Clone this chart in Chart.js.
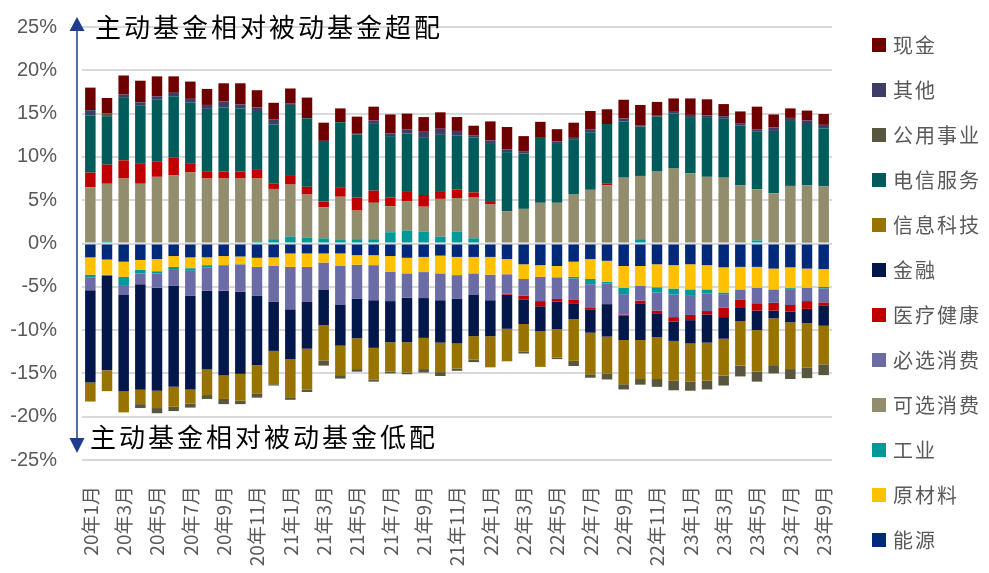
<!DOCTYPE html>
<html>
<head>
<meta charset="utf-8">
<script src="https://cdn.jsdelivr.net/npm/chart.js@4.4.1/dist/chart.umd.min.js"></script>
<style>
  body { margin: 0; background: #fff; }
  canvas { display: block; }
</style>
</head>
<body>
<canvas id="grafico" width="989" height="573"></canvas>
<script>
// months 20年1月 .. 23年9月
const meses = [
  '20年1月','20年2月','20年3月','20年4月','20年5月','20年6月','20年7月','20年8月','20年9月','20年10月','20年11月','20年12月',
  '21年1月','21年2月','21年3月','21年4月','21年5月','21年6月','21年7月','21年8月','21年9月','21年10月','21年11月','21年12月',
  '22年1月','22年2月','22年3月','22年4月','22年5月','22年6月','22年7月','22年8月','22年9月','22年10月','22年11月','22年12月',
  '23年1月','23年2月','23年3月','23年4月','23年5月','23年6月','23年7月','23年8月','23年9月'
];

// 超配/低配 (%), one value per month
const energia = [-1.6,-1.85,-2.1,-1.9,-1.8,-1.45,-1.6,-1.6,-1.45,-1.5,-1.65,-1.6,-1.15,-1.15,-1.15,-1.15,-1.35,-1.35,-1.45,-1.65,-1.55,-1.4,-1.55,-1.55,-1.55,-1.8,-2.4,-2.5,-2.6,-2.1,-1.8,-2.0,-2.6,-2.6,-2.4,-2.5,-2.4,-2.5,-2.75,-2.7,-2.7,-2.9,-2.75,-2.9,-2.95];
const materiais = [-2.0,-1.75,-1.75,-1.15,-1.4,-1.25,-1.25,-0.9,-1.05,-0.9,-1.05,-0.95,-1.55,-1.55,-1.05,-1.45,-1.1,-1.15,-1.8,-1.8,-1.75,-2.05,-2.1,-1.9,-2.05,-1.75,-1.7,-1.35,-1.3,-1.75,-2.3,-2.4,-2.5,-2.25,-2.65,-2.7,-2.9,-2.8,-2.9,-2.6,-2.4,-2.4,-2.4,-2.2,-2.05];
const industria = [-0.35,0.2,-0.95,-0.4,-0.25,-0.25,-0.3,-0.25,0,0,0.2,0.5,0.8,0.65,0.6,0.4,0.5,0.5,1.3,1.5,1.35,0.8,1.35,0.6,0,0,0,0,0,-0.2,-0.6,-0.2,-0.75,0.5,-0.6,-0.7,-0.75,-0.45,-0.2,0,0.35,0,-0.2,0.1,-0.2];
const opcional = [6.5,6.7,7.5,6.9,7.7,7.9,8.2,7.5,7.5,7.5,7.3,5.8,6.0,5.0,3.6,5.0,3.3,4.2,3.0,3.4,2.9,4.35,3.9,4.7,4.5,3.7,4.0,4.7,4.7,5.65,6.2,6.7,7.6,7.3,8.3,8.65,8.1,7.7,7.6,6.7,5.9,5.8,6.65,6.6,6.6];
const essencial = [-1.45,-0.15,-1.15,-1.25,-1.65,-1.9,-2.9,-2.7,-2.95,-3.15,-3.35,-4.15,-4.9,-4.05,-3.1,-4.5,-3.9,-4.05,-3.4,-2.8,-3.0,-3.1,-2.7,-2.5,-2.95,-2.25,-1.9,-2.8,-2.5,-2.4,-2.75,-2.4,-2.35,-1.75,-2.1,-2.6,-2.2,-2.05,-1.55,-1.15,-1.8,-1.55,-1.75,-1.55,-1.6];
const saude = [1.7,2.2,2.1,2.3,1.8,2.0,1.0,0.85,0.8,0.8,1.0,0.65,1.0,0.9,0.65,1.1,1.5,1.4,1.0,1.15,1.35,0.9,1.0,0.6,0.3,-0.1,-0.45,-0.6,-0.3,-0.45,-0.15,0.2,-0.15,-0.3,-0.3,-0.5,-0.6,-0.4,-1.1,-0.9,-0.85,-0.9,-0.75,-0.9,-0.4];
const financas = [-10.65,-10.9,-11.15,-12.2,-11.9,-11.7,-10.8,-9.1,-9.8,-9.5,-8.0,-5.7,-5.75,-5.4,-4.15,-4.7,-4.6,-5.5,-4.75,-5.15,-4.6,-4.9,-5.2,-4.75,-4.15,-3.95,-2.85,-2.9,-3.2,-1.85,-2.7,-3.75,-2.8,-4.25,-2.75,-2.25,-2.7,-3.25,-2.5,-1.6,-2.25,-0.9,-1.25,-1.65,-2.3];
const tecnologia = [-2.2,-2.4,-2.4,-1.65,-2.0,-2.3,-1.65,-2.95,-2.7,-3.1,-3.25,-3.85,-4.4,-4.7,-4.05,-3.4,-3.55,-3.65,-3.4,-3.5,-3.6,-3.4,-2.9,-2.7,-3.6,-3.75,-3.2,-4.1,-3.25,-4.8,-4.8,-4.25,-5.1,-4.5,-4.85,-4.6,-4.4,-4.4,-4.25,-5.15,-4.8,-5.4,-5.4,-5.15,-4.45];
const telecom = [6.6,5.6,7.3,6.7,7.1,7.1,7.1,7.2,7.4,7.3,6.8,6.8,8.2,7.9,7.0,7.5,7.3,7.8,7.1,6.65,6.6,6.5,6.2,6.35,6.8,6.85,6.4,7.5,6.9,6.4,6.65,6.9,6.5,5.7,6.35,6.35,6.5,6.9,6.8,6.9,6.65,7.2,7.5,7.1,6.7];
const utilidades = [0,0.3,0,-0.45,-0.6,-0.5,-0.45,-0.45,-0.6,-0.4,-0.5,-0.15,-0.3,-0.3,-0.6,-0.4,-0.3,-0.25,-0.2,-0.2,-0.4,-0.45,-0.25,-0.3,0,0,-0.2,0,-0.2,-0.6,-0.4,-0.7,-0.6,-0.65,-0.9,-1.1,-1.05,-1.0,-1.15,-1.25,-1.15,-0.95,-1.15,-1.2,-1.25];
const outros = [0.6,0,0.3,0.4,0.4,0.4,0.4,0.45,0.7,0.45,0.4,0.6,0.2,0,0,0,0.15,0.3,0.3,0.45,0.7,0.7,0.55,0.25,0.3,0.3,0.2,0,0.2,0.15,0.35,0,0.35,0.1,0.1,0.3,0.25,0.2,0.3,0.3,0.3,0.4,0.35,0.4,0.4];
const caixa = [2.6,1.8,2.2,2.5,2.3,1.9,2.0,1.85,2.1,2.45,2.0,1.9,1.7,2.4,2.1,1.6,1.9,1.6,2.2,1.85,1.7,1.9,1.6,1.1,2.2,2.6,1.8,1.85,1.4,1.75,2.1,1.7,2.15,2.4,1.6,1.45,1.9,1.85,1.4,1.35,2.6,1.5,1.1,1.15,1.25];

const yTicks = [-25, -20, -15, -10, -5, 0, 5, 10, 15, 20, 25];
const textoTopo = '主动基金相对被动基金超配';
const textoBaixo = '主动基金相对被动基金低配';

// stacking order (bottom first); legend is drawn reversed
const series = [
  { label: '能源', data: energia, cor: '#00297A' },
  { label: '原材料', data: materiais, cor: '#FFC000' },
  { label: '工业', data: industria, cor: '#00999A' },
  { label: '可选消费', data: opcional, cor: '#918D6D' },
  { label: '必选消费', data: essencial, cor: '#6B6BA5' },
  { label: '医疗健康', data: saude, cor: '#C00000' },
  { label: '金融', data: financas, cor: '#03174A' },
  { label: '信息科技', data: tecnologia, cor: '#997300' },
  { label: '电信服务', data: telecom, cor: '#025B5B' },
  { label: '公用事业', data: utilidades, cor: '#595640' },
  { label: '其他', data: outros, cor: '#3D3D66' },
  { label: '现金', data: caixa, cor: '#6E0000' }
];

const extras = {
  id: 'extras',
  afterDraw(chart) {
    const ctx = chart.ctx;
    const area = chart.chartArea;
    const y = chart.scales.y;
    const ax = area.left - 5;
    const topo = y.getPixelForValue(25) - 10;
    const baixo = y.getPixelForValue(-25) - 7;
    ctx.save();
    // double arrow along the y axis
    ctx.strokeStyle = '#1F3D8F';
    ctx.fillStyle = '#1F3D8F';
    ctx.lineWidth = 1.5;
    ctx.beginPath();
    ctx.moveTo(ax, topo + 10);
    ctx.lineTo(ax, baixo - 10);
    ctx.stroke();
    ctx.beginPath();
    ctx.moveTo(ax, topo); ctx.lineTo(ax - 7.5, topo + 14); ctx.lineTo(ax + 7.5, topo + 14);
    ctx.closePath(); ctx.fill();
    ctx.beginPath();
    ctx.moveTo(ax, baixo); ctx.lineTo(ax - 7.5, baixo - 15); ctx.lineTo(ax + 7.5, baixo - 15);
    ctx.closePath(); ctx.fill();

    // annotations
    ctx.fillStyle = '#000';
    ctx.font = '26px "Noto Sans CJK SC"';
    ctx.letterSpacing = '3px';
    ctx.textAlign = 'left';
    ctx.textBaseline = 'middle';
    ctx.fillText(textoTopo, ax + 18, topo + 10);
    ctx.fillText(textoBaixo, ax + 13, baixo - 16);

    // legend on the right
    ctx.font = '20px "Noto Sans CJK SC"';
    ctx.letterSpacing = '2px';
    const ds = chart.data.datasets;
    for (let i = ds.length - 1, r = 0; i >= 0; i--, r++) {
      const cy = 45 + r * 45;
      ctx.fillStyle = ds[i].backgroundColor;
      ctx.fillRect(872, cy - 7, 14, 14);
      ctx.fillStyle = '#595959';
      ctx.fillText(ds[i].label, 893, cy);
    }
    ctx.restore();
  }
};

const grafico = new Chart(document.getElementById('grafico'), {
  type: 'bar',
  data: {
    labels: meses,
    datasets: series.map(s => ({
      label: s.label,
      data: s.data,
      backgroundColor: s.cor,
      borderWidth: 0,
      barPercentage: 0.63,
      categoryPercentage: 1
    }))
  },
  options: {
    responsive: false,
    animation: false,
    layout: { padding: { top: 27, right: 157, bottom: 0, left: 0 } },
    plugins: {
      legend: { display: false },
      tooltip: { enabled: false }
    },
    scales: {
      x: {
        stacked: true,
        grid: { display: false },
        border: { display: false },
        ticks: {
          autoSkip: false,
          maxRotation: 90,
          minRotation: 90,
          padding: 18,
          color: '#595959',
          font: { family: '"Noto Sans CJK SC"', size: 19 },
          callback: (v, i) => (i % 2 === 0 ? meses[i] : '')
        },
        afterFit: (s) => { s.height = 113; }
      },
      y: {
        stacked: true,
        min: -25,
        max: 25,
        afterBuildTicks: (s) => { s.ticks = yTicks.map(v => ({ value: v })); },
        grid: { color: '#d9d9d9', lineWidth: 2, drawTicks: false },
        border: { display: false },
        ticks: {
          padding: 25,
          color: '#595959',
          font: { family: '"Liberation Sans"', size: 20 },
          callback: (v) => v + '%'
        },
        afterFit: (s) => { s.width = 82; s.paddingTop = 0; s.paddingBottom = 0; }
      }
    }
  },
  plugins: [extras]
});
</script>
</body>
</html>
